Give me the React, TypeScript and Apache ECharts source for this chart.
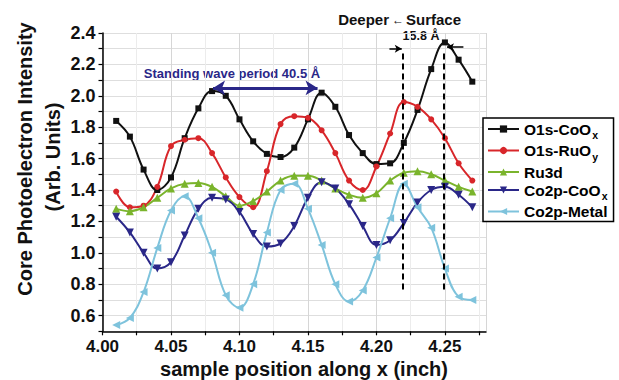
import React, { useEffect, useRef } from "react";
import * as echarts from "echarts";

const positions = [4.01, 4.02, 4.03, 4.04, 4.05, 4.06, 4.07, 4.08, 4.09, 4.1, 4.11, 4.12, 4.13, 4.14, 4.15, 4.16, 4.17, 4.18, 4.19, 4.2, 4.21, 4.22, 4.23, 4.24, 4.25, 4.26, 4.27];
const o1sCoOx = [1.84, 1.74, 1.53, 1.4, 1.48, 1.73, 1.92, 2.03, 2.0, 1.85, 1.71, 1.63, 1.61, 1.67, 1.85, 2.02, 1.93, 1.75, 1.635, 1.565, 1.57, 1.7, 1.91, 2.17, 2.34, 2.23, 2.09];
const o1sRuOy = [1.39, 1.29, 1.3, 1.42, 1.68, 1.72, 1.73, 1.635, 1.48, 1.355, 1.29, 1.52, 1.82, 1.87, 1.86, 1.78, 1.635, 1.46, 1.4, 1.55, 1.76, 1.96, 1.93, 1.85, 1.73, 1.57, 1.46];
const ru3d = [1.28, 1.265, 1.29, 1.35, 1.41, 1.44, 1.445, 1.42, 1.36, 1.3, 1.33, 1.39, 1.46, 1.49, 1.49, 1.46, 1.41, 1.37, 1.35, 1.38, 1.46, 1.51, 1.52, 1.5, 1.46, 1.42, 1.39];
const co2pCoOx = [1.23, 1.13, 1.0, 0.9, 0.94, 1.11, 1.28, 1.35, 1.34, 1.26, 1.12, 1.04, 1.06, 1.17, 1.35, 1.45, 1.41, 1.31, 1.17, 1.05, 1.08, 1.19, 1.32, 1.4, 1.42, 1.37, 1.29];
const co2pMetal = [0.54, 0.585, 0.75, 1.03, 1.27, 1.36, 1.22, 1.0, 0.73, 0.65, 0.8, 1.13, 1.4, 1.44, 1.28, 1.05, 0.8, 0.69, 0.76, 0.97, 1.22, 1.44, 1.29, 1.16, 0.9, 0.72, 0.7];

const seriesNames = ["O1s-CoOx", "O1s-RuOy", "Ru3d", "Co2p-CoOx", "Co2p-Metal"];
const legendLabels = ["{b|O1s-CoO}{s|x}", "{b|O1s-RuO}{s|y}", "{b|Ru3d}", "{b|Co2p-CoO}{s|x}", "{b|Co2p-Metal}"];
const xTickLabels = ["4.00", "4.05", "4.10", "4.15", "4.20", "4.25"];
const yTickLabels = ["0.6", "0.8", "1.0", "1.2", "1.4", "1.6", "1.8", "2.0", "2.2", "2.4"];

// annotation coordinates in data units
const periodArrow = { x1: 4.0807, x2: 4.157, y: 2.05 };
const dashedLines = [
  { x: 4.2193, y1: 2.27, y2: 0.76 },
  { x: 4.2493, y1: 2.27, y2: 0.75 },
];
const shiftArrows = [
  { from: [4.2095, 2.3], to: [4.2185, 2.3] },
  { from: [4.2635, 2.31], to: [4.2515, 2.31] },
];

const FONT = '"Liberation Sans", Arial, Helvetica, sans-serif';

export default function App() {
  const ref = useRef<HTMLDivElement>(null);
  useEffect(() => {
    const chart = echarts.init(ref.current!, null, { renderer: "svg" });
    const colors = ["#111111", "#d8262a", "#7ab42c", "#2a2788", "#7ec3dc"];
    const symbols = ["rect", "circle", "triangle", "triangle", "triangle"];
    const rotations = [0, 0, 0, 180, 90];
    const sizes = [6, 6, 8, 8, 8];
    const values = [o1sCoOx, o1sRuOy, ru3d, co2pCoOx, co2pMetal];

    const series: any[] = seriesNames.map((name, k) => ({
      name,
      type: "line",
      data: positions.map((x, i) => [x, values[k][i]]),
      smooth: 0.4,
      symbol: symbols[k],
      symbolRotate: rotations[k],
      symbolSize: sizes[k],
      showSymbol: true,
      lineStyle: { width: 2, color: colors[k] },
      itemStyle: { color: colors[k] },
      emphasis: { disabled: true },
    }));

    series[0].markLine = {
      silent: true,
      animation: false,
      label: { show: false },
      emphasis: { disabled: true },
      data: [
        [
          { coord: [periodArrow.x1, periodArrow.y], symbol: "arrow", symbolSize: [11, 12] },
          { coord: [periodArrow.x2, periodArrow.y], symbol: "arrow", symbolSize: [11, 12], lineStyle: { color: "#2a2788", width: 3, type: "solid" } },
        ],
        ...dashedLines.map((d) => [
          { coord: [d.x, d.y1], symbol: "none" },
          { coord: [d.x, d.y2], symbol: "none", lineStyle: { color: "#000", width: 2, type: [6, 4] } },
        ]),
        ...shiftArrows.map((a) => [
          { coord: a.from, symbol: "none" },
          { coord: a.to, symbol: "arrow", symbolSize: [6, 7], lineStyle: { color: "#000", width: 1.5, type: "solid" } },
        ]),
      ],
    };

    const option: any = {
      animation: false,
      backgroundColor: "#ffffff",
      grid: { left: 102.5, right: 133, top: 33, bottom: 48.7, containLabel: false },
      xAxis: {
        type: "value",
        min: 4.0,
        max: 4.28,
        interval: 0.025,
        axisLine: { show: true, onZero: false, lineStyle: { color: "#000", width: 1.5 } },
        axisTick: { show: true, inside: false, length: 4, lineStyle: { color: "#000", width: 1.2 } },
        axisLabel: {
          margin: 7,
          fontSize: 17,
          lineHeight: 17,
          fontWeight: "bold",
          fontFamily: FONT,
          color: "#111",
          showMaxLabel: false,
          formatter: (v: number) => {
            const s = v.toFixed(2);
            return xTickLabels.indexOf(s) >= 0 && Math.abs(v - parseFloat(s)) < 1e-6 ? s : "";
          },
        },
        splitLine: { show: true, lineStyle: { color: ["#d6d6d6", "#ececec"], width: 1 } },
      },
      yAxis: {
        type: "value",
        min: 0.5,
        max: 2.4,
        interval: 0.1,
        axisLine: { show: true, onZero: false, lineStyle: { color: "#000", width: 1.5 } },
        axisTick: { show: true, inside: false, length: 4, lineStyle: { color: "#000", width: 1.2 } },
        axisLabel: {
          margin: 7,
          fontSize: 18,
          fontWeight: "bold",
          fontFamily: FONT,
          color: "#111",
          formatter: (v: number) => {
            const s = v.toFixed(1);
            return yTickLabels.indexOf(s) >= 0 && Math.abs(v - parseFloat(s)) < 1e-6 ? s : "";
          },
        },
        splitLine: { show: true, lineStyle: { color: "#dedede", width: 1 } },
      },
      legend: {
        orient: "vertical",
        left: 483,
        top: 118,
        width: 132,
        padding: [3, 6, 2, 4],
        itemGap: 2,
        itemWidth: 31,
        itemHeight: 9,
        backgroundColor: "#fff",
        borderColor: "#000",
        borderWidth: 1.5,
        borderRadius: 0,
        data: seriesNames,
        formatter: (name: string) => legendLabels[seriesNames.indexOf(name)],
        textStyle: {
          fontSize: 15.5,
          lineHeight: 15,
          fontWeight: "bold",
          fontFamily: FONT,
          color: "#000",
          padding: [0, 0, 0, 0],
          rich: {
            b: { fontSize: 15.5, fontWeight: "bold", fontFamily: FONT, color: "#000", lineHeight: 15 },
            s: { fontSize: 10.5, fontWeight: "bold", fontFamily: FONT, color: "#000", lineHeight: 10, verticalAlign: "bottom", padding: [0, 0, -4, 1] },
          },
        },
      },
      graphic: [
        {
          type: "text",
          x: 25,
          y: 159,
          rotation: Math.PI / 2,
          style: { text: "Core Photoelectron Intensity", fontSize: 20, fontWeight: "bold", fontFamily: FONT, fill: "#111", align: "center", verticalAlign: "middle", textAlign: "center", textVerticalAlign: "middle" },
        },
        {
          type: "text",
          x: 53,
          y: 157,
          rotation: Math.PI / 2,
          style: { text: "(Arb. Units)", fontSize: 20, fontWeight: "bold", fontFamily: FONT, fill: "#111", align: "center", verticalAlign: "middle", textAlign: "center", textVerticalAlign: "middle" },
        },
        {
          type: "text",
          x: 304,
          y: 369,
          style: { text: "sample position along x (inch)", fontSize: 20, lineHeight: 20, fontWeight: "bold", fontFamily: FONT, fill: "#111", align: "center", verticalAlign: "middle", textAlign: "center", textVerticalAlign: "middle" },
        },
        {
          type: "text",
          x: 232,
          y: 73,
          style: { text: "Standing wave period 40.5 Å", fontSize: 13, fontWeight: "bold", fontFamily: FONT, fill: "#2a2788", align: "center", verticalAlign: "middle", textAlign: "center", textVerticalAlign: "middle" },
        },
        {
          type: "text",
          x: 421,
          y: 35.5,
          style: { text: "15.8 Å", fontSize: 12.5, lineHeight: 12, fontWeight: "bold", fontFamily: FONT, fill: "#111", align: "center", verticalAlign: "middle", textAlign: "center", textVerticalAlign: "middle" },
        },
        {
          type: "text",
          x: 389,
          y: 19,
          style: { text: "Deeper", fontSize: 15, lineHeight: 14, fontWeight: "bold", fontFamily: FONT, fill: "#111", align: "right", verticalAlign: "middle", textAlign: "right", textVerticalAlign: "middle" },
        },
        {
          type: "text",
          x: 398,
          y: 20,
          style: { text: "←", fontSize: 12, lineHeight: 12, fontWeight: "normal", fontFamily: FONT, fill: "#111", align: "center", verticalAlign: "middle", textAlign: "center", textVerticalAlign: "middle" },
        },
        {
          type: "text",
          x: 406,
          y: 19,
          style: { text: "Surface", fontSize: 15, lineHeight: 14, fontWeight: "bold", fontFamily: FONT, fill: "#111", align: "left", verticalAlign: "middle", textAlign: "left", textVerticalAlign: "middle" },
        },
      ],
      series,
    };
    chart.setOption(option);
    return () => chart.dispose();
  }, []);
  return (
    <div
      ref={ref}
      style={{ position: "fixed", left: 0, top: 0, width: 619, height: 380, background: "#fff" }}
    />
  );
}
